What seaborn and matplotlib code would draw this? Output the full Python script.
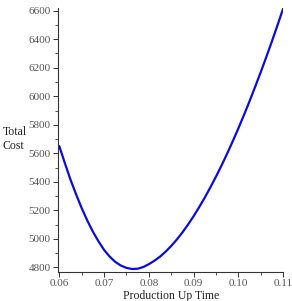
import matplotlib
matplotlib.use("Agg")
import matplotlib.pyplot as plt
import seaborn as sns
import pandas as pd
from matplotlib.ticker import MultipleLocator

# Data
production_up_time = [0.06000, 0.06125, 0.0625, 0.06375, 0.0650, 0.06625, 0.0675, 0.06875,
                      0.0700, 0.07125, 0.0725, 0.07375, 0.0750, 0.07625, 0.0775, 0.07875,
                      0.0800, 0.08125, 0.0825, 0.08375, 0.0850, 0.08625, 0.0875, 0.08875,
                      0.0900, 0.09125, 0.0925, 0.09375, 0.0950, 0.09625, 0.0975, 0.09875,
                      0.1000, 0.10125, 0.1025, 0.10375, 0.1050, 0.10625, 0.1075, 0.10875,
                      0.1100]
total_cost = [5650, 5530, 5415, 5312, 5215, 5128, 5050, 4982,
              4922, 4875, 4838, 4812, 4796, 4788, 4790, 4802,
              4822, 4846, 4875, 4910, 4950, 4995, 5045, 5100,
              5159, 5223, 5290, 5362, 5437, 5516, 5599, 5686,
              5776, 5870, 5967, 6068, 6171, 6278, 6388, 6501,
              6617]
x_ticks = [0.06, 0.07, 0.08, 0.09, 0.10, 0.11]
x_tick_labels = ["0.06", "0.07", "0.08", "0.09", "0.10", "0.11"]
y_ticks = [4800, 5000, 5200, 5400, 5600, 5800, 6000, 6200, 6400, 6600]

df = pd.DataFrame({"T": production_up_time, "C": total_cost})

sns.set_theme(style="ticks")
plt.rcParams["font.family"] = ["Liberation Serif", "DejaVu Serif"]

fig = plt.figure(figsize=(2.92, 3.01), dpi=100)
ax = fig.add_axes([0.1997, 0.0973, 0.7703, 0.8751])

sns.lineplot(data=df, x="T", y="C", ax=ax, color="#0a0ae6", linewidth=1.6)

ax.set_xlim(0.05978, 0.11)
ax.set_ylim(4769, 6617)
ax.set_xticks(x_ticks)
ax.set_xticklabels(x_tick_labels)
ax.set_yticks(y_ticks)
ax.xaxis.set_minor_locator(MultipleLocator(0.005))
ax.yaxis.set_minor_locator(MultipleLocator(100))

for s in ["top", "right"]:
    ax.spines[s].set_visible(False)
for s in ["left", "bottom"]:
    ax.spines[s].set_color("#333333")
    ax.spines[s].set_linewidth(0.8)

ax.tick_params(axis="both", which="major", length=3.5, width=0.7, colors="#333333",
               labelsize=8, labelcolor="#555555", pad=2)
ax.tick_params(axis="both", which="minor", length=2, width=0.6, colors="#333333")

ax.set_xlabel("Production Up Time", fontsize=8.5, color="#222222", labelpad=1)
ax.set_ylabel("")
fig.text(0.01, 0.538, "Total\nCost", fontsize=8.5, color="#222222", ha="left", va="center",
         linespacing=1.3)

fig.savefig("out.png", dpi=100)
